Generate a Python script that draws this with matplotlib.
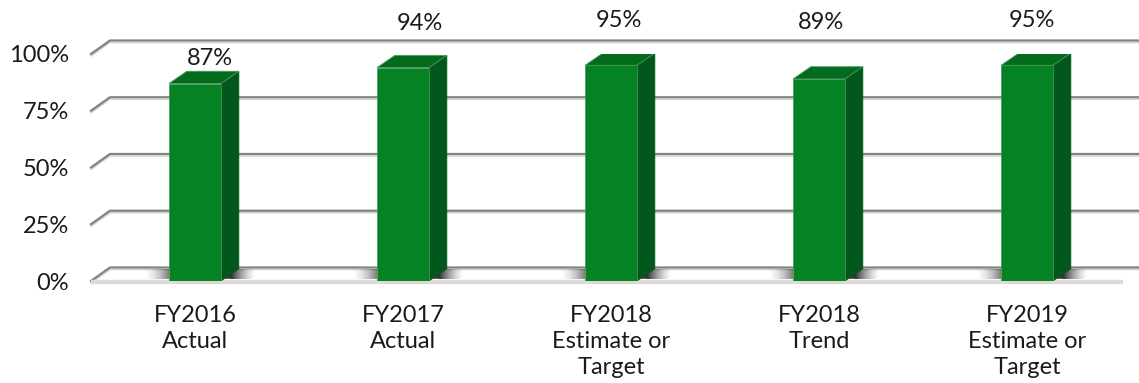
import numpy as np
import matplotlib
matplotlib.use("Agg")
import matplotlib.pyplot as plt
from matplotlib.patches import Polygon

plt.rcParams['font.family'] = ['Lato', 'DejaVu Sans']

categories = ["FY2016\nActual", "FY2017\nActual", "FY2018\nEstimate or\nTarget",
              "FY2018\nTrend", "FY2019\nEstimate or\nTarget"]
values = [87, 94, 95, 89, 95]
value_labels = ["87%", "94%", "95%", "89%", "95%"]
ticks = [0, 25, 50, 75, 100]
tick_labels = ["0%", "25%", "50%", "75%", "100%"]

# 3-D look: wall depth and bar depth in data units
DX, DY = 0.091, 5.95
BDX, BDY = 0.086, 5.4
BW = 0.25

FRONT = "#048224"
SIDE = "#02581a"
TOP = "#036a1e"
GRID = "#828282"
TXT = "#1a1a1a"
FS = 17

fig = plt.figure(figsize=(11.39, 3.83), dpi=100)
ax = fig.add_axes([91 / 1139, 102 / 383, 1040 / 1139, 227 / 383])
ax.set_xlim(-0.5, 4.5)
ax.set_ylim(0, 100)
for s in ax.spines.values():
    s.set_visible(False)

# perspective gridlines
for t in ticks:
    xs = [-0.5, -0.5 + DX, 4.6]
    ys = [t, t + DY, t + DY]
    ax.plot(xs, [y - 0.9 for y in ys], color="#d0d0d0", lw=1.0, clip_on=False, zorder=1)
    ax.plot(xs, ys, color=GRID, lw=1.6, clip_on=False, zorder=2)

# floor front edge
ax.plot([-0.5, 4.46], [-0.4, -0.4], color="#dadada", lw=3.2, clip_on=False,
        solid_capstyle="butt", zorder=2)

# floor shadows around each bar
ramp = np.linspace(0, 1, 64)
for i, v in enumerate(values):
    x0, x1 = i - BW / 2, i + BW / 2
    left = np.zeros((1, 64, 4))
    left[..., 3] = 0.5 * ramp ** 1.6
    ax.imshow(left, extent=(x0 - 0.12, x0, 1.0, BDY), aspect="auto",
              interpolation="bilinear", zorder=3, clip_on=False)
    right = np.zeros((1, 64, 4))
    right[..., 3] = 0.8 * (1 - ramp) ** 1.4
    ax.imshow(right, extent=(x1 + 0.05, x1 + 0.17, 1.0, BDY), aspect="auto",
              interpolation="bilinear", zorder=3, clip_on=False)
    ax.add_patch(Polygon([(x1, 1.0), (x1 + BDX, BDY), (x1 + 0.05, BDY), (x1 + 0.05, 1.0)],
                         closed=True, facecolor="#333333", edgecolor="none", zorder=3))

# bars
for i, v in enumerate(values):
    x0, x1 = i - BW / 2, i + BW / 2
    ax.add_patch(Polygon([(x1, 0), (x1 + BDX, BDY), (x1 + BDX, v + BDY), (x1, v)],
                         closed=True, facecolor=SIDE, edgecolor=SIDE, lw=0.5, zorder=4))
    ax.add_patch(Polygon([(x0, v), (x0 + BDX, v + BDY), (x1 + BDX, v + BDY), (x1, v)],
                         closed=True, facecolor=TOP, edgecolor="#4c9a5e", lw=0.6, zorder=4))
    ax.add_patch(Polygon([(x0, 0), (x0, v), (x1, v), (x1, 0)],
                         closed=True, facecolor=FRONT, edgecolor="#3f9a55", lw=0.5, zorder=5))

# value labels (baseline position and horizontal nudge per label)
label_dx = [0.07, 0.08, 0.04, 0.01, 0.025]
label_y = [95.2, 110.6, 112.0, 111.0, 112.0]
for i, (lab, dx, ly) in enumerate(zip(value_labels, label_dx, label_y)):
    ax.text(i + dx, ly, lab, ha="center", va="baseline", fontsize=FS,
            color=TXT, clip_on=False)

ax.set_yticks(ticks)
ax.set_yticklabels(tick_labels, fontsize=FS, color=TXT)
ax.set_xticks(range(len(categories)))
ax.set_xticklabels(categories, fontsize=FS, color=TXT, linespacing=1.3)
ax.tick_params(axis="y", length=0, pad=16)
ax.tick_params(axis="x", length=0, pad=17)

fig.savefig("out.png", dpi=100)
